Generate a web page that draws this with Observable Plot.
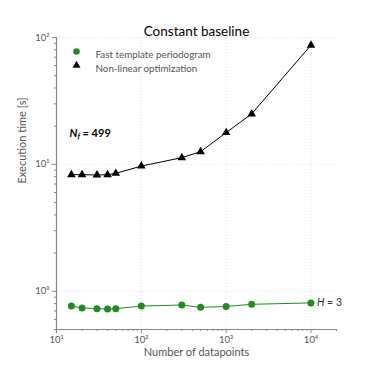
<!DOCTYPE html>
<html>
<head>
<meta charset="utf-8">
<script src="https://cdn.jsdelivr.net/npm/d3@7"></script>
<script src="https://cdn.jsdelivr.net/npm/@observablehq/plot@0.6"></script>
<style>
  body { margin: 0; background: #fff; }
  svg { font-family: Lato, "Open Sans", sans-serif; }
</style>
</head>
<body>
<div id="chart"></div>
<script>
const npoints = [15, 20, 30, 40, 50, 100, 300, 500, 1000, 2000, 10000];
const ftpTimes = [0.765, 0.74, 0.73, 0.725, 0.73, 0.765, 0.78, 0.747, 0.76, 0.79, 0.81];
const nloTimes = [8.3, 8.3, 8.25, 8.3, 8.5, 9.7, 11.3, 12.6, 17.8, 25, 87];
const seriesNames = ["Fast template periodogram", "Non-linear optimization"];
const xMajor = [10, 100, 1000, 10000];
const yMajor = [1, 10, 100];
const title = "Constant baseline";
const xLabel = "Number of datapoints";
const yLabel = "Execution time [s]";
const nfLabel = "N_f = 499";
const hLabel = "H = 3";

const green = "#228B22";
const ftp = npoints.map((n, i) => ({n, t: ftpTimes[i]}));
const nlo = npoints.map((n, i) => ({n, t: nloTimes[i]}));

const sup = {"0":"⁰","1":"¹","2":"²","3":"³","4":"⁴","5":"⁵","6":"⁶","7":"⁷","8":"⁸","9":"⁹","-":"⁻"};
const fmt = d => "10" + String(Math.round(Math.log10(d))).split("").map(c => sup[c]).join("");

const xMinor = [];
for (const b of [10, 100, 1000, 10000]) for (let k = 2; k <= 9; k++) if (b * k <= 20000) xMinor.push(b * k);
const yMinor = [];
for (const b of [0.1, 1, 10]) for (let k = 2; k <= 9; k++) if (b * k >= 0.5 && b * k <= 100) yMinor.push(+(b * k).toFixed(2));

const axisColor = "#888";
const labColor = "#555";

const plot = Plot.plot({
  width: 374, height: 374,
  marginLeft: 56, marginRight: 38, marginTop: 37, marginBottom: 45,
  x: {type: "log", domain: [10, 20000]},
  y: {type: "log", domain: [0.5, 100]},
  marks: [
    Plot.gridX(xMajor, {stroke: "#e2e2e2", strokeOpacity: 1, strokeDasharray: "1,2"}),
    Plot.gridY(yMajor, {stroke: "#e2e2e2", strokeOpacity: 1, strokeDasharray: "1,2"}),
    Plot.axisX(xMinor, {tickSize: 2, tickFormat: () => "", stroke: axisColor, label: null}),
    Plot.axisY(yMinor, {tickSize: 2, tickFormat: () => "", stroke: axisColor, label: null}),
    Plot.axisX(xMajor, {tickSize: 4, tickFormat: fmt, stroke: axisColor, fill: "#555", fontSize: 9.5, tickPadding: 3, label: null}),
    Plot.axisY(yMajor, {tickSize: 4, tickFormat: fmt, stroke: axisColor, fill: "#555", fontSize: 9.5, tickPadding: 3, label: null}),
    Plot.ruleX([10], {stroke: axisColor, strokeWidth: 1.2}),
    Plot.ruleY([0.5], {stroke: axisColor, strokeWidth: 1.2}),
    Plot.line(nlo, {x: "n", y: "t", stroke: "black", strokeWidth: 1}),
    Plot.dot(nlo, {x: "n", y: "t", symbol: "triangle", r: 3.2, fill: "black", stroke: "none"}),
    Plot.line(ftp, {x: "n", y: "t", stroke: green, strokeWidth: 1}),
    Plot.dot(ftp, {x: "n", y: "t", r: 3.5, fill: green, stroke: "none"}),
    Plot.text([ftp[ftp.length - 1]], {x: "n", y: "t", text: () => hLabel, dx: 6, textAnchor: "start", fontSize: 10.5, fill: "#333"}),
    // legend
    Plot.dot([seriesNames[0]], {frameAnchor: "top-left", dx: 20, dy: 14, r: 3.3, fill: green, stroke: "none"}),
    Plot.dot([seriesNames[1]], {frameAnchor: "top-left", dx: 20, dy: 28, r: 3, symbol: "triangle", fill: "black", stroke: "none"}),
    Plot.text([seriesNames[0]], {frameAnchor: "top-left", dx: 39, dy: 14, text: d => d, textAnchor: "start", fontSize: 9.8, fill: "#555"}),
    Plot.text([seriesNames[1]], {frameAnchor: "top-left", dx: 39, dy: 28, text: d => d, textAnchor: "start", fontSize: 9.8, fill: "#555"}),
    // annotation
    Plot.text([nfLabel], {frameAnchor: "top-left", dx: 13, dy: 92, text: d => d, textAnchor: "start", fontSize: 11, fontWeight: "bold", fill: "black"}),
    // title & labels
    Plot.text([title], {frameAnchor: "top", dy: -11, text: d => d, fontSize: 13.5, fontWeight: "normal", fill: "black"}),
    Plot.text([xLabel], {frameAnchor: "bottom", dy: 26, text: d => d, fontSize: 11, fill: labColor}),
    Plot.text([yLabel], {frameAnchor: "left", dx: -34, rotate: -90, text: d => d, fontSize: 11, fill: labColor})
  ]
});

// rich text for math-style annotations
d3.select(plot).selectAll("text").each(function() {
  const t = this.textContent;
  if (t === nfLabel) {
    const el = d3.select(this);
    el.text(null);
    el.append("tspan").attr("font-style", "italic").text("N");
    el.append("tspan").attr("font-style", "italic").attr("font-size", "7.5").attr("dy", "2").text("f");
    el.append("tspan").attr("dy", "-2").text(" = 499");
  } else if (t === hLabel) {
    const el = d3.select(this);
    el.text(null);
    el.append("tspan").attr("font-style", "italic").text("H");
    el.append("tspan").text(" = 3");
  }
});

document.getElementById("chart").appendChild(plot);
</script>
</body>
</html>
